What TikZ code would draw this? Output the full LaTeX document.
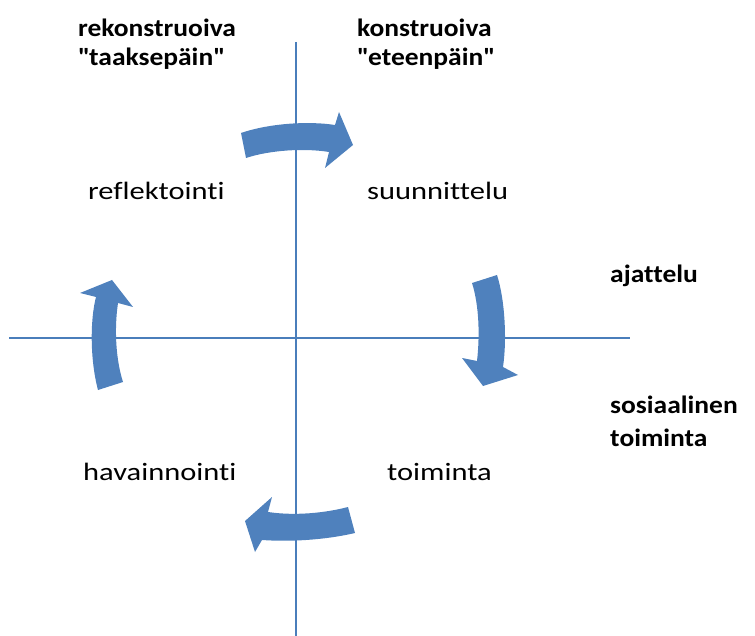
\documentclass[tikz,border=0pt]{standalone}
\usepackage{fontspec}
\setmainfont[FakeStretch=1.22,BoldFeatures={FakeStretch=1.10},Ligatures=NoCommon]{Carlito}
\definecolor{axisblue}{HTML}{4A7EBB}
\definecolor{arrowblue}{HTML}{4F81BD}
\begin{document}
\begin{tikzpicture}[x=1pt,y=-1pt,
  lbl/.style={inner sep=0pt,anchor=base west,font=\fontsize{25}{30}\selectfont},
  blbl/.style={lbl,font=\fontsize{25}{30}\selectfont\bfseries},
  axis/.style={draw=axisblue,line width=1.3pt},
  bigarrow/.style={fill=arrowblue,draw=none}]
\useasboundingbox (0,0) rectangle (755,636);
% axes
\coordinate (vtop) at (296,42);
\coordinate (vbot) at (296,636);
\coordinate (hleft) at (9,338);
\coordinate (hright) at (630,338);
\draw[axis] (vtop) -- (vbot);
\draw[axis] (hleft) -- (hright);
% curved arrows
\fill[bigarrow] (241,133) .. controls (270,123) and (310,121) .. (335,125) -- (339,112) -- (353,145) -- (325,168) -- (329,152) .. controls (305,148) and (270,150) .. (246,158) -- cycle;
\fill[bigarrow] (472,283) -- (497,275) .. controls (505,300) and (507,340) .. (503,367) -- (518,375) -- (483,386) -- (462,358) -- (477,361) .. controls (480,335) and (479,305) .. (472,283) -- cycle;
\fill[bigarrow] (348,507) .. controls (325,513) and (295,516) .. (268,512) -- (272,497) -- (245,521) -- (255,552) -- (262,540) .. controls (290,542) and (325,540) .. (355,533) -- cycle;
\fill[bigarrow] (98,390) .. controls (90,360) and (90,320) .. (96,297) -- (80,293) -- (112,280) -- (133,307) -- (118,303) .. controls (114,330) and (116,360) .. (123,382) -- cycle;
% labels
\node[blbl] (rek1) at (78,37) {rekonstruoiva};
\node[blbl] (rek2) at (78,66) {\textquotedbl taaksepäin\textquotedbl};
\node[blbl] (kon1) at (357,37) {konstruoiva};
\node[blbl] (kon2) at (357,66) {\textquotedbl eteenpäin\textquotedbl};
\node[lbl] (refl) at (88,200) {reflektointi};
\node[lbl] (suun) at (367,200) {suunnittelu};
\node[lbl] (hav) at (83,480) {havainnointi};
\node[lbl] (toim) at (387,480) {toiminta};
\node[blbl] (ajat) at (610,283) {ajattelu};
\node[blbl] (sos1) at (610,413) {sosiaalinen};
\node[blbl] (sos2) at (610,446) {toiminta};
\end{tikzpicture}
\end{document}
